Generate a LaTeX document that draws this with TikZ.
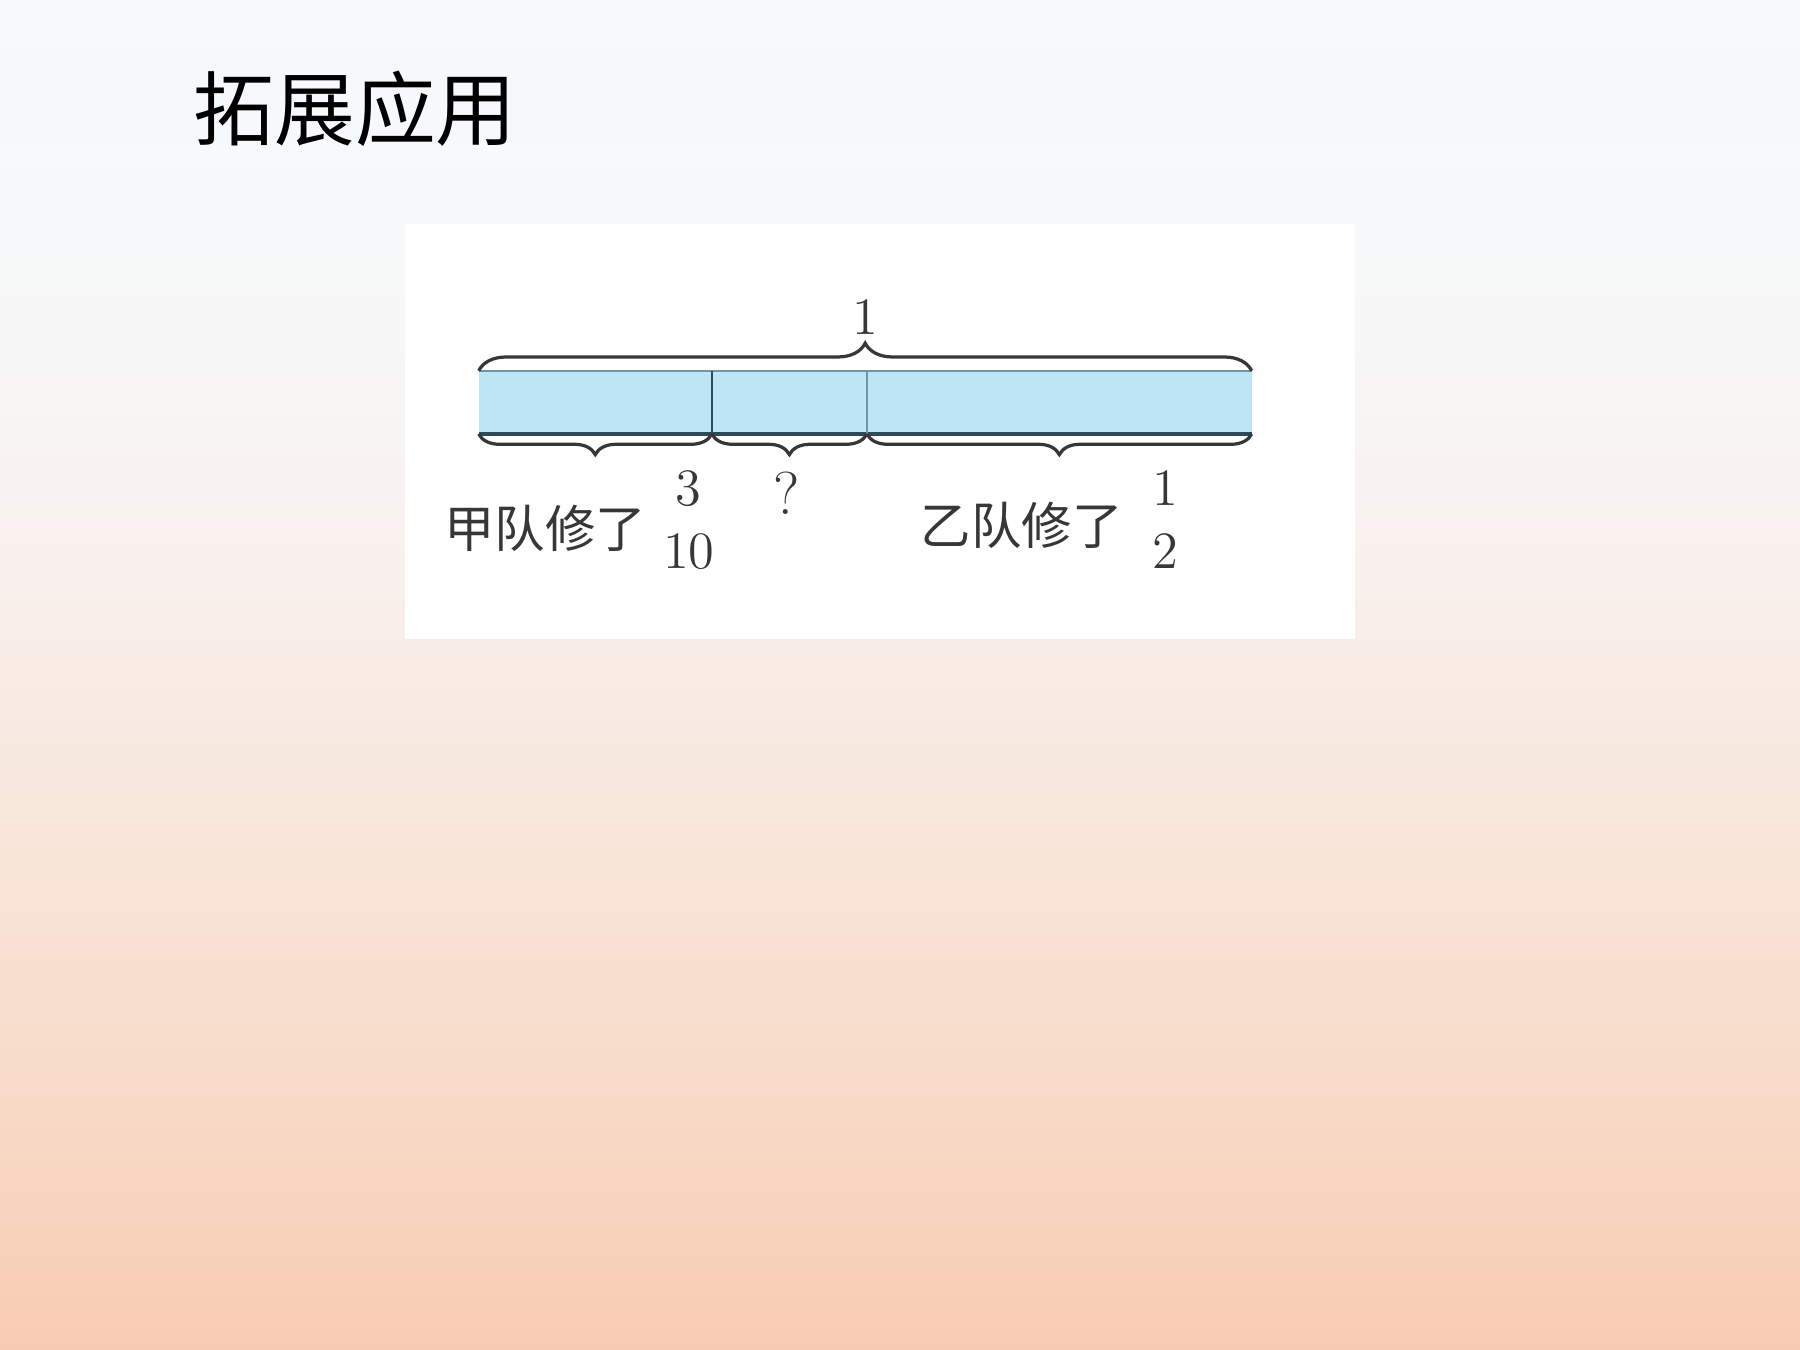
\documentclass[tikz,border=0pt]{standalone}
\usepackage{fontspec}
\newfontfamily\cjk{Noto Sans CJK SC}
\usepackage{tikz}
\usetikzlibrary{positioning,decorations.pathreplacing}

\definecolor{barblue}{RGB}{190,229,246}
\definecolor{bardark}{RGB}{45,75,90}
\definecolor{barlight}{RGB}{110,150,170}
\definecolor{inkgray}{RGB}{55,55,55}
\pgfdeclareverticalshading{slidebg}{100bp}{%
  rgb(0bp)=(0.973,0.800,0.698); rgb(25bp)=(0.973,0.800,0.698);
  rgb(35bp)=(0.973,0.859,0.788); rgb(45bp)=(0.973,0.906,0.859);
  rgb(54bp)=(0.976,0.941,0.929); rgb(62.5bp)=(0.969,0.969,0.969);
  rgb(75bp)=(0.965,0.980,0.992); rgb(100bp)=(0.965,0.980,0.992)}

\begin{document}
\begin{tikzpicture}
          [x=0.01cm,y=-0.01cm,
            seg/.style={rectangle,fill=barblue,draw=none,minimum height=0.55cm,inner sep=0pt,outer sep=0pt},
            brc/.style={draw=inkgray,line width=0.8pt,decorate},
            lbl/.style={text=inkgray,inner sep=0pt,font=\cjk\fontsize{12.5}{15}\selectfont},
            num/.style={text=inkgray,inner sep=0pt,align=center,font=\fontsize{13}{15.6}\selectfont}]
          \useasboundingbox (0,0) rectangle (1568,1176);
          \shade[shading=slidebg] (0,0) rectangle (1568,1176);
          \node[anchor=west,inner sep=0pt,font=\cjk\fontsize{20}{24}\selectfont] (title) at (168,95) {拓展应用};
          \fill[white] (353,195) rectangle (1180,557);
          % the bar
          \node[seg,anchor=west,minimum width=2.03cm] (a) at (417,350.5) {};
          \node[seg,right=0pt of a,minimum width=1.35cm] (b) {};
          \node[seg,right=0pt of b,minimum width=3.35cm] (c) {};
          \draw[barlight,line width=0.6pt] (a.north west) -- (c.north east);
          \draw[bardark,line width=1.1pt] (a.south west) -- (c.south east);
          \draw[bardark,line width=0.5pt] (a.north east) -- (a.south east);
          \draw[barlight,line width=0.3pt] (b.north east) -- (b.south east);
          % braces
          \draw[brc,decoration={brace,amplitude=0.24cm}] (a.north west) -- (c.north east)
            node[num,midway,above=0.3cm] (top) {1};
          \draw[brc,decoration={brace,amplitude=0.18cm}] (a.south east) -- (a.south west);
          \draw[brc,decoration={brace,amplitude=0.18cm}] (b.south east) -- (b.south west);
          \draw[brc,decoration={brace,amplitude=0.18cm}] (c.south east) -- (c.south west);
          % labels
          \node[lbl] (n1) at (475,460) {甲队修了};
          \node[num] (n2) at (600,453) {3\\10};
          \node[num,font=\fontsize{15}{18}\selectfont] (n3) at (685,430) {?};
          \node[lbl] (n4) at (890,458) {乙队修了};
          \node[num] (n5) at (1015,453) {1\\2};
        \end{tikzpicture}
\end{document}
